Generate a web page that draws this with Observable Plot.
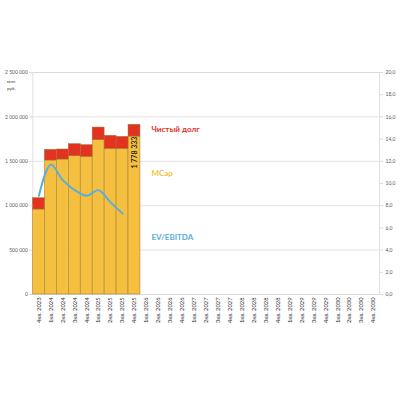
<!DOCTYPE html>
<html>
<head>
<meta charset="utf-8">
<script src="https://cdn.jsdelivr.net/npm/d3@7"></script>
<script src="https://cdn.jsdelivr.net/npm/@observablehq/plot@0.6"></script>
<style>
body{margin:0;background:#fff;}
#chart svg{display:block;font-family:Lato,"Open Sans",sans-serif;}
</style>
</head>
<body>
<div id="chart"></div>
<script>
const quarters = ["4кв. 2023",
  "1кв. 2024","2кв. 2024","3кв. 2024","4кв. 2024",
  "1кв. 2025","2кв. 2025","3кв. 2025","4кв. 2025",
  "1кв. 2026","2кв. 2026","3кв. 2026","4кв. 2026",
  "1кв. 2027","2кв. 2027","3кв. 2027","4кв. 2027",
  "1кв. 2028","2кв. 2028","3кв. 2028","4кв. 2028",
  "1кв. 2029","2кв. 2029","3кв. 2029","4кв. 2029",
  "1кв. 2030","2кв. 2030","3кв. 2030","4кв. 2030"];
const mcap = [957000, 1509000, 1520000, 1557000, 1550000, 1738000, 1640000, 1640000, 1778333];
const netDebt = [128000, 120000, 113000, 136000, 132000, 142000, 147000, 135000, 133000];
const evEbitda = [8.9, 11.7, 10.3, 9.4, 8.9, 9.4, 8.3, 7.3];
const leftTicks = [0, 500000, 1000000, 1500000, 2000000, 2500000];
const rightTicks = [0, 2, 4, 6, 8, 10, 12, 14, 16, 18, 20];
const seriesNames = ["MCap", "Чистый долг"];
const seriesColors = ["#F5BF3F", "#E3321F"];
const lineColor = "#5AAEDB";

const RATIO = 2500000 / 20; // right axis 0..20 mapped onto left 0..2.5M

const rows = [];
mcap.forEach((v, i) => rows.push({q: quarters[i], s: seriesNames[0], v}));
netDebt.forEach((v, i) => rows.push({q: quarters[i], s: seriesNames[1], v}));
const lineRows = evEbitda.map((e, i) => ({q: quarters[i], e}));

const fmtLeft = d => d3.format(",")(d).replace(/,/g, " ");
const fmtRight = d => d.toFixed(1).replace(".", ",");

const chart = Plot.plot({
  width: 400,
  height: 400,
  marginTop: 72,
  marginBottom: 106,
  marginLeft: 32.4,
  marginRight: 21,
  x: {domain: quarters, padding: 0, round: false, label: null},
  y: {domain: [0, 2500000], label: null},
  color: {domain: seriesNames, range: seriesColors},
  style: {fontFamily: "Lato, 'Open Sans', sans-serif", background: "#fff"},
  marks: [
    Plot.ruleY(leftTicks, {stroke: "#d9d9d9", strokeWidth: 0.8}),
    Plot.frame({stroke: "#d9d9d9", strokeWidth: 0.8}),
    Plot.barY(rows, {x: "q", y: "v", fill: "s", stroke: "#9a7a3a", strokeWidth: 0.5, inset: 0}),
    Plot.line(lineRows, {x: "q", y: d => d.e * RATIO, stroke: lineColor, strokeWidth: 2, curve: "catmull-rom"}),
    Plot.text([mcap[8]], {x: () => quarters[8], y: d => d, text: d => fmtLeft(d), rotate: -90, textAnchor: "end", dy: 0, fontSize: 7, fontWeight: 600, fill: "#111", lineAnchor: "middle"}),
    Plot.text(["Чистый долг"], {x: () => quarters[9], y: () => 1860000, text: d => d, textAnchor: "start", dx: 5, fill: "#E3321F", fontWeight: "bold", fontSize: 8}),
    Plot.text(["MCap"], {x: () => quarters[9], y: () => 1365000, text: d => d, textAnchor: "start", dx: 5, fill: "#F5BF3F", fontWeight: "bold", fontSize: 8}),
    Plot.text(["EV/EBITDA"], {x: () => quarters[9], y: () => 640000, text: d => d, textAnchor: "start", dx: 5, fill: lineColor, fontWeight: "bold", fontSize: 8}),
    Plot.axisY({ticks: leftTicks, tickFormat: fmtLeft, tickSize: 3, tickPadding: 2, fontSize: 5, color: "#595959", stroke: "#d9d9d9", label: null}),
    Plot.axisY({anchor: "right", ticks: rightTicks.map(t => t * RATIO), tickFormat: d => fmtRight(d / RATIO), tickSize: 3, tickPadding: 3, fontSize: 5, color: "#595959", stroke: "#d9d9d9", label: null}),
    Plot.axisX({tickRotate: -90, tickSize: 0, tickPadding: 3, fontSize: 5.8, color: "#333", label: null}),
    Plot.text(["млн\nруб."], {frameAnchor: "top-left", dx: -26, dy: 6, text: d => d, textAnchor: "start", lineAnchor: "top", fontSize: 4.6, fill: "#404040", lineHeight: 1.5})
  ]
});
document.getElementById("chart").appendChild(chart);
</script>
</body>
</html>
